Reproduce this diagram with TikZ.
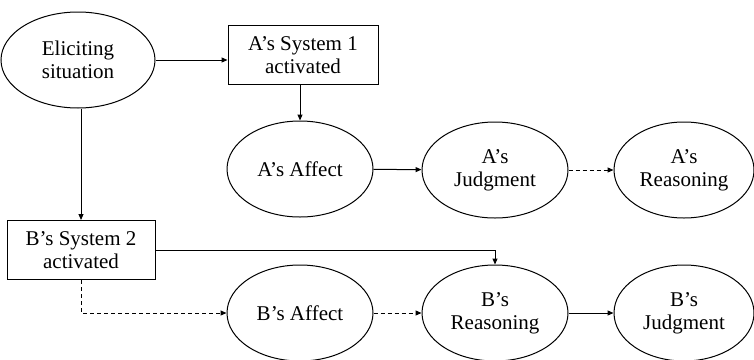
\documentclass[tikz,border=0pt]{standalone}
\usepackage{fontspec}
\setmainfont{Liberation Serif}
\usetikzlibrary{shapes.geometric,arrows.meta}

\begin{document}
\begin{tikzpicture}[x=1pt,y=-1pt,
    every node/.style={inner sep=0pt,align=center,font=\fontsize{21}{23}\selectfont},
    stage/.style={draw,ellipse,line width=1pt,minimum width=146pt,minimum height=96pt},
    sysbox/.style={draw,rectangle,line width=1pt,minimum width=150pt,minimum height=59pt},
    link/.style={line width=1pt,-{Triangle[length=6pt,width=5pt]}},
    weak/.style={link,dashed,dash pattern=on 4pt off 3pt}]
            \useasboundingbox (0,0) rectangle (754,359);
            \node [stage,minimum width=154pt] (elicit) at (78,60) {Eliciting\\situation};
            \node [sysbox] (sysA) at (303,55) {A’s System 1\\activated};
            \node [sysbox,minimum width=148pt] (sysB) at (81,250) {B’s System 2\\activated};
            \node [stage] (affA) at (300,169) {A’s Affect};
            \node [stage] (judA) at (495,170) {A’s\\Judgment};
            \node [stage,minimum width=140pt] (reaA) at (684,170) {A’s\\Reasoning};
            \node [stage] (affB) at (300,313) {B’s Affect};
            \node [stage] (reaB) at (495,313) {B’s\\Reasoning};
            \node [stage,minimum width=140pt] (judB) at (684,313) {B’s\\Judgment};
            \draw [link] (elicit.east |- 0,60) -- (sysA.west |- 0,60);
            \draw [link] (sysA.south -| 300,0) -- (affA.north);
            \draw [link] (elicit.south -| 81,0) -- (sysB.north);
            \draw [link] (affA) -- (judA);
            \draw [weak] (judA) -- (reaA);
            \draw [link] (sysB.east) -| (reaB.north);
            \draw [weak] (sysB.south) |- (affB.west);
            \draw [weak] (affB) -- (reaB);
            \draw [link] (reaB) -- (judB);
\end{tikzpicture}
\end{document}
